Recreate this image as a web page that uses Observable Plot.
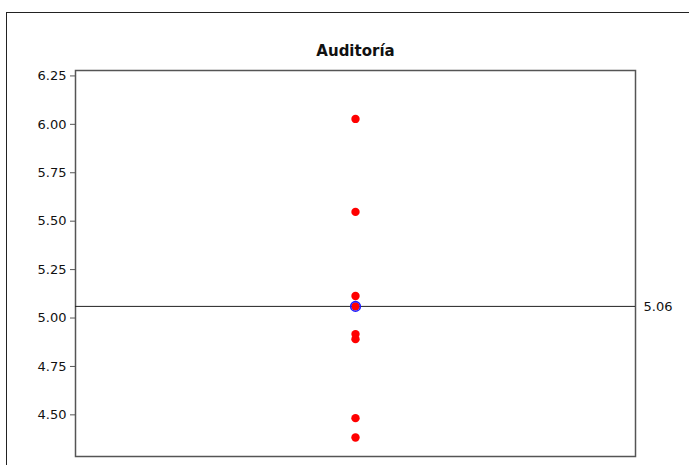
<!DOCTYPE html>
<html>
<head>
<meta charset="utf-8">
<script src="https://cdn.jsdelivr.net/npm/d3@7"></script>
<script src="https://cdn.jsdelivr.net/npm/@observablehq/plot@0.6"></script>
<style>
  body { margin: 0; background: #fff; }
  #wrap { position: relative; width: 689px; height: 465px; overflow: hidden; }
  #border { position: absolute; left: 6px; top: 12px; width: 700px; height: 470px;
            border-top: 1.5px solid #222; border-left: 1.5px solid #222; box-sizing: border-box; }
  #chart { position: absolute; left: 0; top: 0; }
</style>
</head>
<body>
<div id="wrap"><div id="border"></div><div id="chart"></div></div>
<script>
const title = "Auditoría";
const category = "Auditoría";
const values = [6.028, 5.548, 5.114, 5.06, 4.917, 4.891, 4.483, 4.383];
const meanValue = 5.06;
const meanLabel = "5.06";
const yTicks = [4.5, 4.75, 5.0, 5.25, 5.5, 5.75, 6.0, 6.25];

const data = values.map(v => ({cat: category, v}));

const chart = Plot.plot({
  width: 689,
  height: 465,
  marginLeft: 75,
  marginRight: 54,
  marginTop: 70,
  marginBottom: 9,
  style: {fontFamily: "DejaVu Sans, sans-serif", fontSize: "13px", color: "#111", background: "transparent"},
  x: {type: "point", domain: [category], axis: null},
  y: {domain: [4.285, 6.278], ticks: yTicks, tickFormat: d3.format(".2f"), label: null, tickSize: 5},
  marks: [
    Plot.frame({stroke: "#555", strokeWidth: 1.5}),
    Plot.axisY({ticks: yTicks, tickFormat: d3.format(".2f"), label: null, tickSize: 5, stroke: "#555", fontSize: 13}),
    Plot.ruleY([meanValue], {stroke: "#222", strokeWidth: 1}),
    Plot.dot(data, {x: "cat", y: "v", r: 4.2, fill: "#ff0000", stroke: "none"}),
    Plot.dot([{cat: category, v: meanValue}], {x: "cat", y: "v", r: 4.8, fill: "none", stroke: "#1a1aff", strokeWidth: 1.6}),
    Plot.text([meanLabel], {y: [meanValue], frameAnchor: "right", textAnchor: "start", dx: 8, fontSize: 13, fill: "#111"}),
    Plot.text([title], {frameAnchor: "top", dy: -25, fontSize: 15, fontWeight: "bold", fill: "#111"})
  ]
});
document.getElementById("chart").appendChild(chart);
</script>
</body>
</html>
